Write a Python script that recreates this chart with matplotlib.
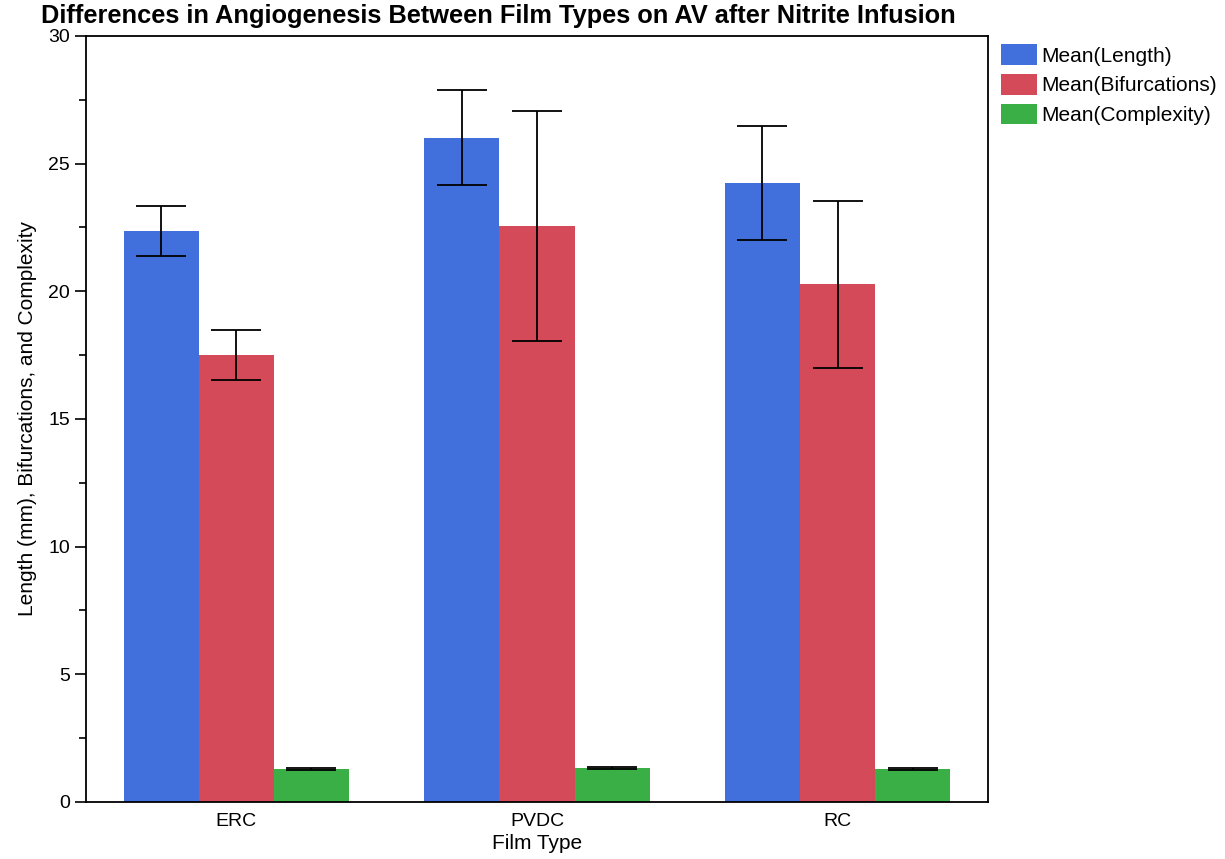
import matplotlib.pyplot as plt
import numpy as np
from matplotlib.ticker import MultipleLocator

plt.rcParams['font.family'] = ['Liberation Sans', 'DejaVu Sans']

films = ["ERC", "PVDC", "RC"]
series = ["Mean(Length)", "Mean(Bifurcations)", "Mean(Complexity)"]
means = [
    [22.37, 26.01, 24.25],   # length
    [17.52, 22.56, 20.27],   # bifurcations
    [1.29, 1.33, 1.29],      # complexity
]
errs = [
    [0.98, 1.86, 2.23],
    [0.98, 4.49, 3.27],
    [0.05, 0.05, 0.05],
]
colors = ["#4170dd", "#d44a59", "#3aaf46"]

fig = plt.figure(figsize=(12.25, 8.59), dpi=100)
ax = fig.add_axes([0.0702, 0.0664, 0.7363, 0.8917])

x = np.arange(len(films))
w = 0.25
for i in range(3):
    ax.bar(x + (i - 1) * w, means[i], w, color=colors[i], label=series[i],
           yerr=errs[i], capsize=18,
           error_kw=dict(ecolor="black", elinewidth=1.3, capthick=1.3))

ax.set_xlim(-0.5, 2.5)
ax.set_ylim(0, 30)
ax.set_xticks(x)
ax.set_xticklabels(films)
ax.yaxis.set_major_locator(MultipleLocator(5))
ax.yaxis.set_minor_locator(MultipleLocator(2.5))
ax.tick_params(axis="x", length=0, labelsize=14, pad=8)
ax.tick_params(axis="y", which="major", length=8, width=1.2, labelsize=14)
ax.tick_params(axis="y", which="minor", length=5, width=1.2)
for s in ax.spines.values():
    s.set_linewidth(1.3)

ax.set_xlabel("Film Type", fontsize=15, labelpad=3)
ax.set_ylabel("Length (mm), Bifurcations, and Complexity", fontsize=15, labelpad=8)
fig.text(0.407, 0.981, "Differences in Angiogenesis Between Film Types on AV after Nitrite Infusion",
         ha="center", va="center", fontsize=18.3, fontweight="bold")

ax.legend(loc="upper left", bbox_to_anchor=(1.005, 1.0), frameon=False, fontsize=15,
          handlelength=1.73, handleheight=1.15, handletextpad=0.2, labelspacing=0.4,
          borderaxespad=0)

fig.savefig("out.png", dpi=100)
